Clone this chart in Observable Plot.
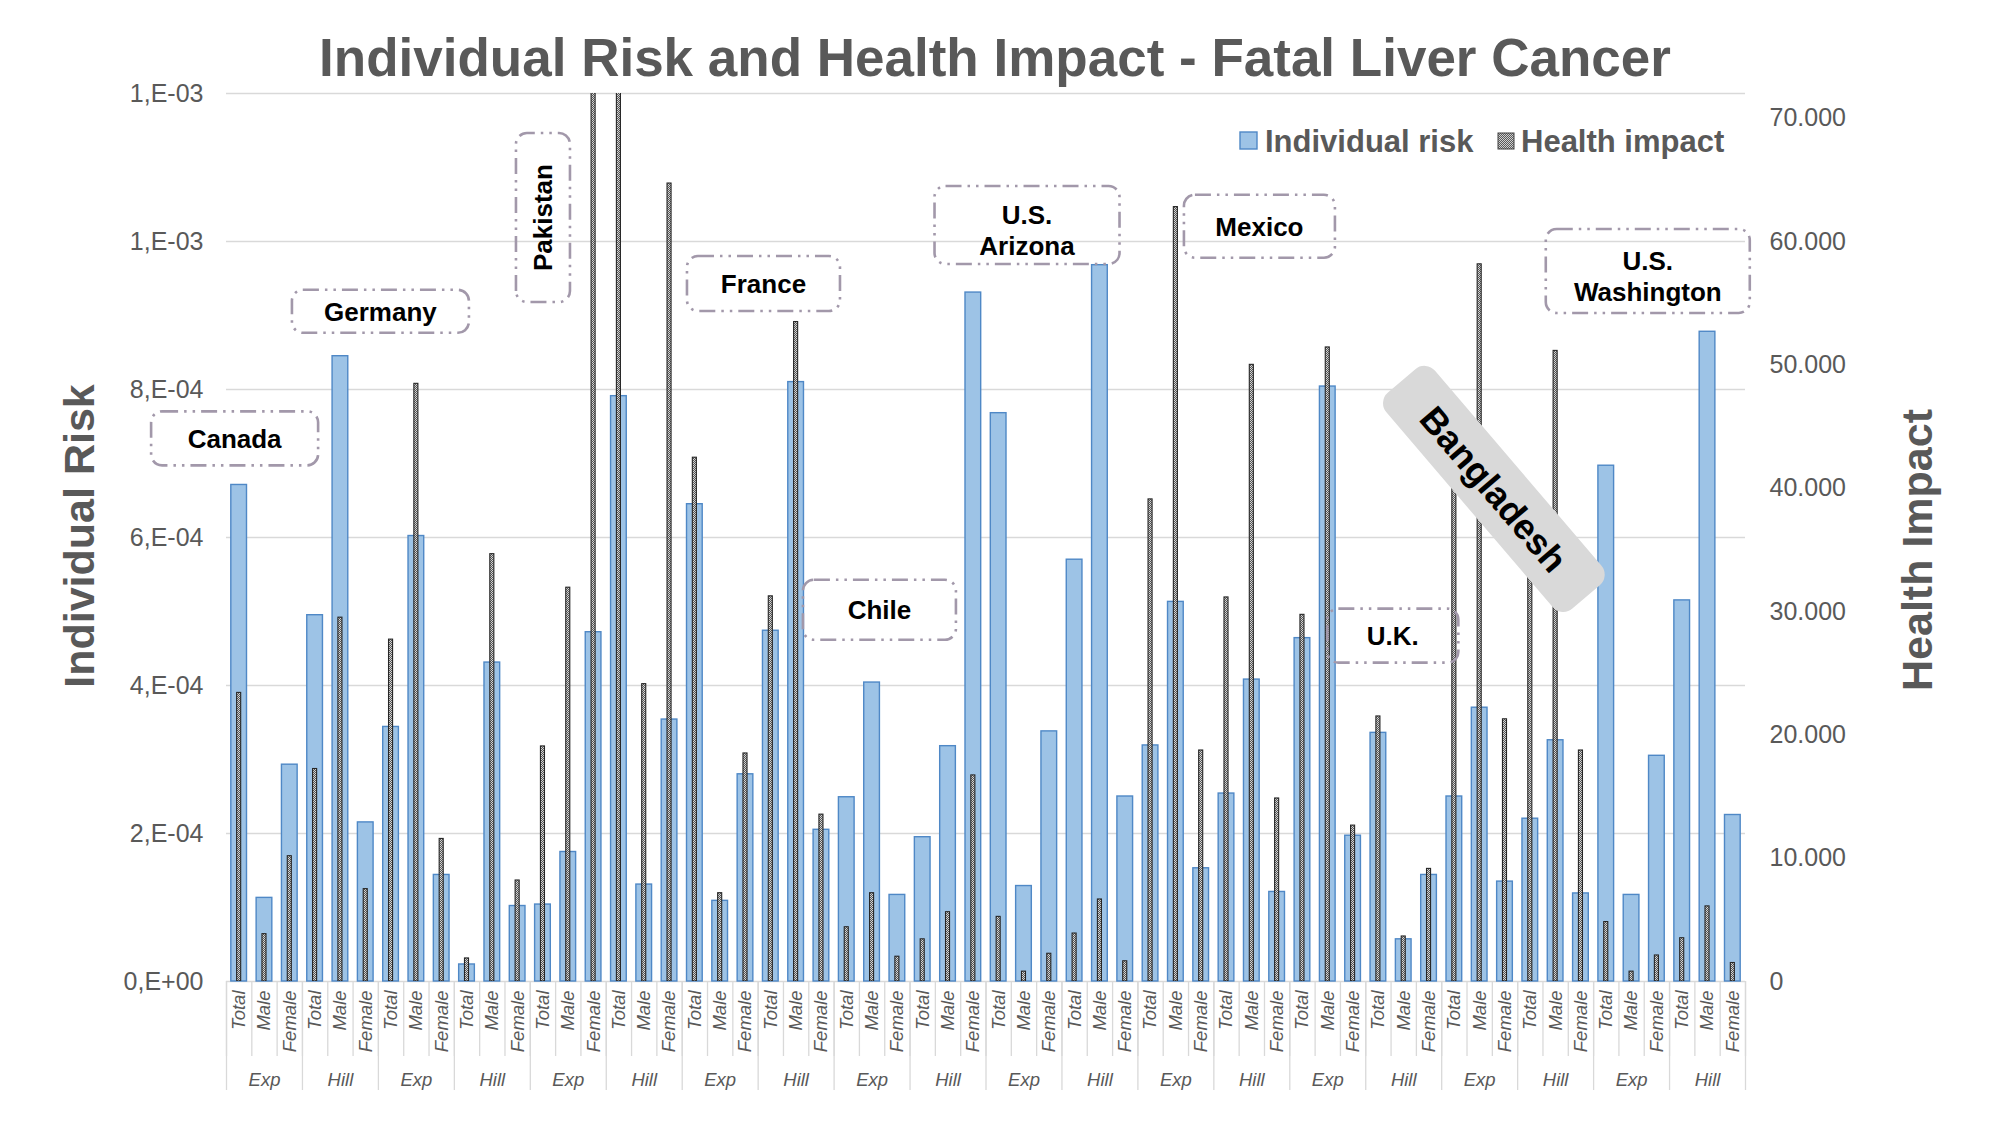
<!DOCTYPE html>
<html><head><meta charset="utf-8">
<script src="https://cdn.jsdelivr.net/npm/d3@7"></script>
<script src="https://cdn.jsdelivr.net/npm/@observablehq/plot@0.6"></script>
<style>
body{margin:0;background:#fff;}
#wrap{position:relative;width:1993px;height:1121px;overflow:hidden;background:#fff;}
#wrap svg{position:absolute;left:0;top:0;max-width:none;}
#border{position:absolute;left:6px;top:6px;width:1977px;height:1107px;border:1.5px solid #d9d9d9;}
</style></head>
<body><div id="wrap"><div id="border"></div></div>
<script>
// ---- data ----
const countries = ["Canada","Germany","Pakistan","France","Chile","U.S. Arizona","Mexico","U.K.","Bangladesh","U.S. Washington"];
const models = ["Exp","Hill"];
const sexes = ["Total","Male","Female"];
const individualRisk = [
  6.71e-4,1.13e-4,2.93e-4, 4.95e-4,8.45e-4,2.15e-4,
  3.44e-4,6.02e-4,1.44e-4, 0.23e-4,4.31e-4,1.02e-4,
  1.04e-4,1.75e-4,4.72e-4, 7.91e-4,1.31e-4,3.54e-4,
  6.45e-4,1.09e-4,2.80e-4, 4.74e-4,8.10e-4,2.05e-4,
  2.49e-4,4.04e-4,1.17e-4, 1.95e-4,3.18e-4,9.31e-4,
  7.68e-4,1.29e-4,3.38e-4, 5.70e-4,9.68e-4,2.50e-4,
  3.19e-4,5.13e-4,1.53e-4, 2.54e-4,4.08e-4,1.21e-4,
  4.64e-4,8.04e-4,1.97e-4, 3.36e-4,0.57e-4,1.44e-4,
  2.50e-4,3.70e-4,1.35e-4, 2.20e-4,3.26e-4,1.19e-4,
  6.97e-4,1.17e-4,3.05e-4, 5.15e-4,8.78e-4,2.25e-4
];
const healthImpact = [
  23400,3840,10160, 17230,29500,7490,
  27720,48460,11560, 1870,34650,8190,
  19060,31930,78000, 82000,24110,64700,
  42470,7160,18490, 31230,53470,13530,
  4400,7160,2010, 3420,5620,16710,
  5240,800,2250, 3890,6650,1640,
  39090,62790,18730, 31140,50000,14840,
  29730,51410,12640, 21490,3650,9130,
  43000,58150,21260, 36000,51130,18730,
  4820,800,2110, 3510,6090,1500
];
const leftTicks = [0, 2e-4, 4e-4, 6e-4, 8e-4, 1e-3, 1.2e-3];
const leftTickLabels = ["0,E+00","2,E-04","4,E-04","6,E-04","8,E-04","1,E-03","1,E-03"];
const rightTicks = [0,10000,20000,30000,40000,50000,60000,70000];
const rightTickLabels = ["0","10.000","20.000","30.000","40.000","50.000","60.000","70.000"];
const title = "Individual Risk and Health Impact - Fatal Liver Cancer";
const leftTitle = "Individual Risk";
const rightTitle = "Health Impact";
const legendLabels = ["Individual risk","Health impact"];

// ---- annotation placement (category index / health-impact units) ----
const notes = [
  {label:["Canada"], x:0.34, y:44000, w:167, h:54},
  {label:["Germany"], x:6.10, y:54300, w:177, h:43},
  {label:["Pakistan"], x:12.52, y:61900, w:54, h:169, angle:-90},
  {label:["France"], x:21.23, y:56550, w:153, h:55},
  {label:["Chile"], x:25.81, y:30100, w:153, h:60},
  {label:["U.S.","Arizona"], x:31.64, y:61300, w:185, h:78},
  {label:["Mexico"], x:40.82, y:61200, w:151, h:63},
  {label:["U.K."], x:46.09, y:28000, w:131, h:54},
  {label:["Bangladesh"], x:50.08, y:39900, w:284, h:64, angle:49.5, filled:true},
  {label:["U.S.","Washington"], x:56.16, y:57570, w:204, h:84}
];

const rows = individualRisk.map((r, i) => ({
  i, risk: r, impact: healthImpact[i],
  sex: sexes[i % 3], model: models[Math.floor(i / 3) % 2], country: countries[Math.floor(i / 6)]
}));
const groups = d3.range(rows.length / 3).map(g => ({g, model: models[g % 2]}));
const nCat = rows.length;

const FONT = "'Liberation Sans', Arial, sans-serif";
const GREY = "#595959";
const common = {
  width: 1993, height: 1121,
  marginLeft: 226, marginRight: 248, marginTop: 93, marginBottom: 140
};

// ---- base plot: individual risk ----
const plotA = Plot.plot({
  ...common,
  style: {fontFamily: FONT, background: "white", overflow: "visible"},
  x: {domain: [0, nCat]},
  y: {domain: [0, 1.2e-3]},
  marks: [
    Plot.gridY(leftTicks, {stroke: "#d9d9d9", strokeOpacity: 1, strokeWidth: 1.3}),
    Plot.rectY(rows, {x1: d => d.i + 0.19, x2: d => d.i + 0.81, y: "risk",
      fill: "#9dc3e6", stroke: "#4f88c6", strokeWidth: 1.4}),
    Plot.axisY(leftTicks, {anchor: "left", tickSize: 0, tickPadding: 23, fontSize: 25,
      color: GREY, label: null, tickFormat: d => leftTickLabels[leftTicks.indexOf(d)]}),
    Plot.axisX(d3.range(0, nCat + 1), {tickSize: 75, tickFormat: () => "", stroke: "#d9d9d9", strokeWidth: 1.3, label: null}),
    Plot.axisX(d3.range(0, nCat + 1, 3), {tickSize: 109, tickFormat: () => "", stroke: "#d9d9d9", strokeWidth: 1.3, label: null}),
    Plot.text(rows, {x: d => d.i + 0.5, y: () => 0, text: "sex", rotate: -90, textAnchor: "end",
      dy: 9, fontSize: 18.5, fontStyle: "italic", fill: GREY}),
    Plot.text(groups, {x: d => d.g * 3 + 1.5, y: () => 0, text: "model", dy: 99,
      fontSize: 18.5, fontStyle: "italic", fill: GREY})
  ]
});

// ---- overlay plot: health impact (secondary axis) ----
const plotB = Plot.plot({
  ...common,
  style: {fontFamily: FONT, background: "transparent", overflow: "visible"},
  x: {domain: [0, nCat], axis: null},
  y: {domain: [0, 72000]},
  marks: [
    Plot.rectY(rows, {x1: d => d.i + 0.42, x2: d => d.i + 0.58, y: "impact",
      fill: "url(#hatch)", stroke: "#262626", strokeWidth: 1.1, clip: true}),
    Plot.axisY(rightTicks, {anchor: "right", tickSize: 0, tickPadding: 24, fontSize: 25,
      color: GREY, label: null, tickFormat: d => rightTickLabels[rightTicks.indexOf(d)]})
  ]
});

const wrap = document.getElementById("wrap");
wrap.appendChild(plotA);
wrap.appendChild(plotB);

const svg = d3.select(plotB);
const defs = svg.insert("defs", ":first-child");
function checker(id, dark, light) {
  const p = defs.append("pattern").attr("id", id).attr("patternUnits", "userSpaceOnUse")
    .attr("width", 2).attr("height", 2);
  p.append("rect").attr("width", 2).attr("height", 2).attr("fill", dark);
  p.append("rect").attr("width", 1).attr("height", 1).attr("fill", light);
  p.append("rect").attr("x", 1).attr("y", 1).attr("width", 1).attr("height", 1).attr("fill", light);
}
checker("hatch", "#555555", "#d6d6d6");
checker("hatchL", "#5a5a5a", "#d0d0d0");

const sx = plotB.scale("x"), sy = plotB.scale("y");

// country annotations
const ann = svg.append("g").attr("font-family", FONT).attr("font-weight", "bold").attr("text-anchor", "middle");
for (const n of notes) {
  const cx = sx.apply(n.x), cy = sy.apply(n.y);
  const g = ann.append("g").attr("transform", `translate(${cx},${cy}) rotate(${n.angle || 0})`);
  const w = n.angle === -90 ? n.h : n.w, h = n.angle === -90 ? n.w : n.h;
  if (n.filled) {
    g.append("rect").attr("x", -w / 2).attr("y", -h / 2).attr("width", w).attr("height", h)
      .attr("rx", 14).attr("fill", "#d9d9d9");
    g.append("text").attr("y", 13).attr("font-size", 36).attr("fill", "#000").text(n.label[0]);
  } else {
    g.append("rect").attr("x", -w / 2).attr("y", -h / 2).attr("width", w).attr("height", h)
      .attr("rx", 11).attr("fill", "none").attr("stroke", "#a298aa").attr("stroke-width", 2.6)
      .attr("stroke-dasharray", "16 6 2.5 6 2.5 6");
    const base = n.label.length === 1 ? [9.3] : [-0.7, 30];
    n.label.forEach((t, k) => g.append("text").attr("y", base[k])
      .attr("font-size", 26).attr("fill", "#000").text(t));
  }
}

// title, axis titles, legend
const deco = svg.append("g").attr("font-family", FONT).attr("font-weight", "bold").attr("fill", GREY);
deco.append("text").attr("x", 995).attr("y", 76).attr("text-anchor", "middle").attr("font-size", 53).text(title);
deco.append("text").attr("transform", "translate(94,536) rotate(-90)").attr("text-anchor", "middle")
  .attr("font-size", 43).text(leftTitle);
deco.append("text").attr("transform", "translate(1932,550) rotate(-90)").attr("text-anchor", "middle")
  .attr("font-size", 43).text(rightTitle);
deco.append("rect").attr("x", 1240).attr("y", 132).attr("width", 17).attr("height", 17)
  .attr("fill", "#9dc3e6").attr("stroke", "#4f88c6").attr("stroke-width", 1.4);
deco.append("text").attr("x", 1265).attr("y", 152).attr("text-anchor", "start").attr("font-size", 31).text(legendLabels[0]);
deco.append("rect").attr("x", 1498).attr("y", 133).attr("width", 16).attr("height", 16)
  .attr("fill", "url(#hatchL)").attr("stroke", "#404040").attr("stroke-width", 1);
deco.append("text").attr("x", 1521).attr("y", 152).attr("text-anchor", "start").attr("font-size", 31).text(legendLabels[1]);
</script>
</body></html>
